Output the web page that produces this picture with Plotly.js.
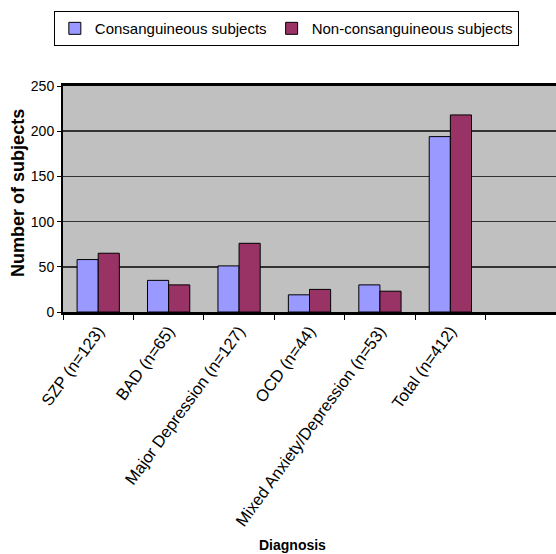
<!DOCTYPE html>
<html>
<head>
<meta charset="utf-8">
<script src="https://cdn.plot.ly/plotly-3.0.1.min.js"></script>
<style>html,body{margin:0;padding:0;background:#fff;}#chart{width:556px;height:554px;}</style>
</head>
<body>
<div id="chart"></div>
<script>
var categories = ["SZP (n=123)", "BAD (n=65)", "Major Depression (n=127)", "OCD (n=44)", "Mixed Anxiety/Depression (n=53)", "Total (n=412)", " "];
var consanguineous = [58, 35, 51, 19, 30, 194, null];
var nonConsanguineous = [65, 30, 76, 25, 23, 218, null];
var yTicks = [0, 50, 100, 150, 200, 250];

var font = "Liberation Sans, Arial, sans-serif";
var traces = [
  {type: "bar", name: "Consanguineous subjects", x: categories, y: consanguineous,
   marker: {color: "#9999FF", line: {color: "#000", width: 1}}},
  {type: "bar", name: "Non-consanguineous subjects", x: categories, y: nonConsanguineous,
   marker: {color: "#993366", line: {color: "#000", width: 1}}}
];
var layout = {
  width: 556, height: 554,
  margin: {l: 63, r: 0, t: 86, b: 242},
  paper_bgcolor: "#fff", plot_bgcolor: "#C0C0C0",
  barmode: "group", bargap: 0.4, bargroupgap: 0,
  font: {family: font, size: 12, color: "#000"},
  showlegend: true,
  legend: {orientation: "h", xref: "container", yref: "container", x: 0.515, xanchor: "center",
    y: 0.98, yanchor: "top", bordercolor: "#000", borderwidth: 1, bgcolor: "#fff",
    itemwidth: 30, font: {family: font, size: 15, color: "#000"}, traceorder: "normal"},
  xaxis: {type: "category", tickangle: -54, ticks: "outside", tickson: "boundaries", ticklen: 5,
    tickcolor: "#000", tickwidth: 1, showline: true, linecolor: "#000", linewidth: 3, mirror: true,
    showgrid: false, range: [-0.5, 6.5], tickfont: {family: font, size: 16.5}},
  yaxis: {range: [0, 250], tickvals: yTicks, ticks: "outside", ticklen: 4, tickcolor: "#000",
    showline: true, linecolor: "#000", linewidth: 2, gridcolor: "#333", gridwidth: 1.5,
    zeroline: false, tickfont: {family: font, size: 14}},
  annotations: [
    {text: "Diagnosis", xref: "paper", yref: "paper", x: 0.4665, y: -1.03, xanchor: "center", yanchor: "middle",
     showarrow: false, font: {family: font, size: 14, color: "#000", weight: "bold"}},
    {text: "Number of subjects", xref: "paper", yref: "paper", x: -0.0913, y: 0.527, xanchor: "center", yanchor: "middle",
     textangle: -90, showarrow: false, font: {family: font, size: 18, color: "#000", weight: "bold"}}
  ]
};
Plotly.newPlot("chart", traces, layout, {displayModeBar: false, staticPlot: true});
</script>
</body>
</html>
